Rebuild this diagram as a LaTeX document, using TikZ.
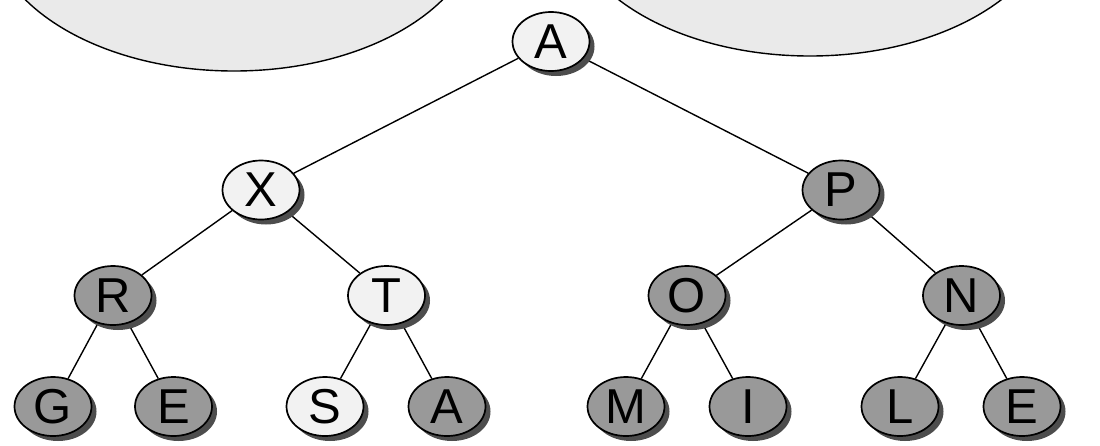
\documentclass[tikz,border=0pt]{standalone}
\usepackage{fontspec}
\setmainfont{Liberation Sans}
\usetikzlibrary{shapes.geometric,shadows,backgrounds}
\definecolor{lightfill}{HTML}{F2F2F2}
\definecolor{darkfill}{HTML}{999999}
\definecolor{shadowgray}{HTML}{4D4D4D}
\definecolor{cloudfill}{HTML}{EAEAEA}
\begin{document}
\begin{tikzpicture}[x=1pt,y=-1pt,
  treenode/.style={ellipse, draw=black, line width=1.7pt,
    minimum width=77pt, minimum height=59pt, inner sep=0pt,
    font=\fontsize{49}{49}\selectfont,
    drop shadow={shadow xshift=5pt, shadow yshift=-5pt, fill=shadowgray, opacity=1}},
  litnode/.style={treenode, fill=lightfill},
  darknode/.style={treenode, fill=darkfill},
  branch/.style={draw=black, line width=1.4pt},
  cloud/.style={ellipse, draw=black, line width=1.4pt, fill=cloudfill,
    minimum width=490pt, minimum height=300pt, inner sep=0pt}
]
\useasboundingbox (0,0) rectangle (1100,445);

% two large regions above the tree
\node[cloud] (cloudL) at (234,-79) {};
\node[cloud] (cloudR) at (810,-94) {};

% root
\node[litnode] (root) at (551,41.5) {A};
% first level
\node[litnode]  (x) at (261,190) {X};
\node[darknode] (p) at (841,190) {P};
% second level
\node[darknode] (r) at (113,295.5) {R};
\node[litnode]  (t) at (386.5,295.5) {T};
\node[darknode] (o) at (687,295.5) {O};
\node[darknode] (n) at (961.5,295.5) {N};
% leaves
\node[darknode] (g)  at (53,406.5)   {G};
\node[darknode] (e1) at (173.5,406.5) {E};
\node[litnode]  (s)  at (325,406.5)  {S};
\node[darknode] (a2) at (447,406.5)  {A};
\node[darknode] (m)  at (626,406.5)  {M};
\node[darknode] (i)  at (748,406.5)  {I};
\node[darknode] (l)  at (900,406.5)  {L};
\node[darknode] (e2) at (1022,406.5) {E};

% branches, kept beneath the nodes and their shadows
\begin{pgfonlayer}{background}
\path[branch] (root) -- (x) (root) -- (p)
  (x) -- (r) (x) -- (t) (p) -- (o) (p) -- (n)
  (r) -- (g) (r) -- (e1) (t) -- (s) (t) -- (a2)
  (o) -- (m) (o) -- (i) (n) -- (l) (n) -- (e2);
\end{pgfonlayer}
\end{tikzpicture}
\end{document}
